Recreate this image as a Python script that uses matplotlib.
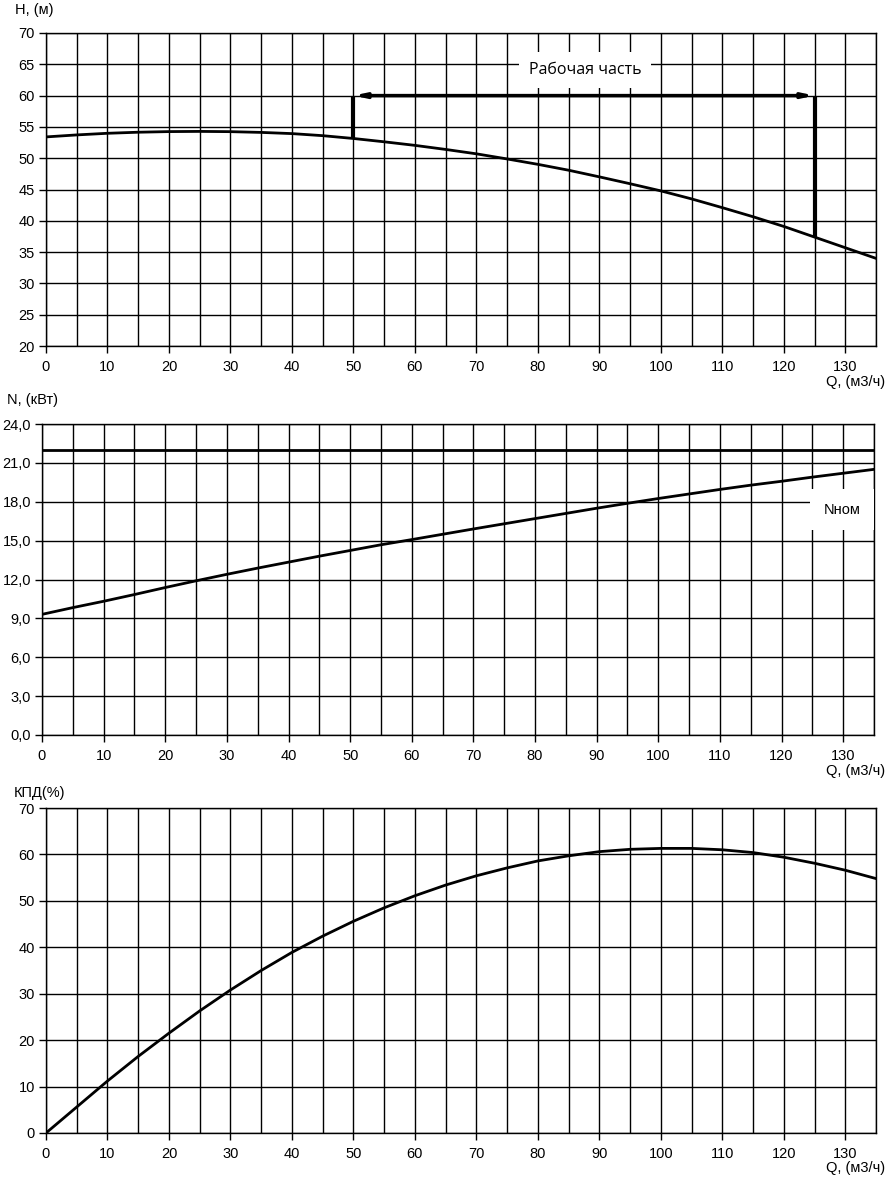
import numpy as np
import matplotlib
matplotlib.use("Agg")
import matplotlib.pyplot as plt
from matplotlib.ticker import MultipleLocator, FuncFormatter

plt.rcParams['font.family'] = ['Liberation Sans', 'DejaVu Sans']

# Q, m3/h
q = [0, 5, 10, 15, 20, 25, 30, 35, 40, 45, 50, 55, 60, 65,
     70, 75, 80, 85, 90, 95, 100, 105, 110, 115, 120, 125, 130, 135]
# head H, m
head = [53.4, 53.72, 53.98, 54.15, 54.25, 54.28, 54.24, 54.12, 53.93, 53.6, 53.15, 52.62, 52.05, 51.4,
        50.7, 49.88, 49.02, 48.08, 47.02, 45.92, 44.78, 43.5, 42.1, 40.65, 39.1, 37.4, 35.7, 34.0]
# power N, kW
power = [9.31, 9.83, 10.32, 10.84, 11.38, 11.9, 12.4, 12.88, 13.34, 13.8, 14.24, 14.68, 15.08, 15.49,
         15.9, 16.3, 16.7, 17.1, 17.5, 17.88, 18.25, 18.6, 18.95, 19.28, 19.58, 19.9, 20.2, 20.5]
# efficiency, %
eff = [0, 5.6, 11.2, 16.5, 21.5, 26.3, 30.8, 35.0, 38.9, 42.4, 45.6, 48.5, 51.1, 53.4,
       55.4, 57.1, 58.6, 59.7, 60.6, 61.1, 61.3, 61.3, 61.0, 60.4, 59.4, 58.1, 56.6, 54.8]

n_nom = 22.0
work_q = [50, 125]
work_h = 60

W, H = 895, 1181
fig = plt.figure(figsize=(W / 100, H / 100), dpi=100)


def px_rect(l, t, r, b):
    return [l / W, 1 - b / H, (r - l) / W, (b - t) / H]


def style(ax, ymin, ymax, ystep, fmt=None):
    ax.set_xlim(0, 135)
    ax.set_ylim(ymin, ymax)
    ax.xaxis.set_major_locator(MultipleLocator(10))
    ax.xaxis.set_minor_locator(MultipleLocator(5))
    ax.yaxis.set_major_locator(MultipleLocator(ystep))
    ax.grid(True, which='both', axis='x', color='black', lw=1.0)
    ax.grid(True, which='major', axis='y', color='black', lw=1.0)
    ax.tick_params(which='major', direction='out', length=5, width=1,
                   labelsize=10.5, pad=3)
    ax.tick_params(axis='x', which='major', pad=5)
    ax.tick_params(which='minor', length=0)
    for s in ax.spines.values():
        s.set_color('black')
        s.set_linewidth(1.0)
    if fmt:
        ax.yaxis.set_major_formatter(FuncFormatter(fmt))
    ax.set_axisbelow(True)


def ftext(x, y, s, ha='left'):
    fig.text(x / W, 1 - y / H, s, ha=ha, va='center', fontsize=10.5)


# --- H(Q)
ax1 = fig.add_axes(px_rect(46, 33, 876, 346))
style(ax1, 20, 70, 5)
ax1.plot(q, head, color='black', lw=2)
h50 = np.interp(work_q[0], q, head)
h125 = np.interp(work_q[1], q, head)
ax1.plot([work_q[0], work_q[0]], [h50, work_h], color='black', lw=3, solid_capstyle='butt')
ax1.plot([work_q[1], work_q[1]], [h125, work_h], color='black', lw=3, solid_capstyle='butt')
ax1.annotate('', xy=(work_q[0], work_h), xytext=(work_q[1], work_h),
             arrowprops=dict(arrowstyle='<|-|>,head_length=0.6,head_width=0.13',
                             color='black', lw=2.5, shrinkA=0, shrinkB=0))
ax1.text(87.7, 64.1, 'Рабочая часть', ha='center', va='center', fontsize=11.5,
         family=['Open Sans', 'DejaVu Sans'],
         bbox=dict(facecolor='white', edgecolor='none', pad=7))
ftext(15, 10, 'H, (м)')
ftext(885, 382, 'Q, (м3/ч)', ha='right')

# --- N(Q)
ax2 = fig.add_axes(px_rect(42, 424, 874, 735))
style(ax2, 0, 24, 3, fmt=lambda v, p: f'{v:.1f}'.replace('.', ','))
ax2.plot(q, power, color='black', lw=2)
ax2.axhline(n_nom, color='black', lw=2)
ax2.text(129.8, 17.4, 'Nном', ha='center', va='center', fontsize=10.5,
         bbox=dict(facecolor='white', edgecolor='none', pad=10))
ftext(7, 400, 'N, (кВт)')
ftext(885, 771, 'Q, (м3/ч)', ha='right')

# --- efficiency
ax3 = fig.add_axes(px_rect(46, 808, 876, 1133))
style(ax3, 0, 70, 10)
ax3.plot(q, eff, color='black', lw=2)
ftext(14, 793, 'КПД(%)')
ftext(885, 1168, 'Q, (м3/ч)', ha='right')

fig.savefig('out.png', dpi=100)
